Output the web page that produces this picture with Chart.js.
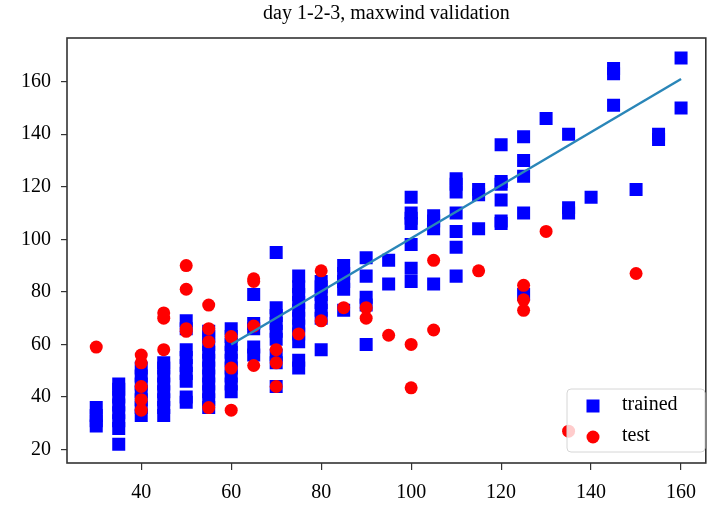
<!DOCTYPE html>
<html>
<head>
<meta charset="utf-8">
<script src="https://cdn.jsdelivr.net/npm/chart.js@4"></script>
<style>
  body { margin: 0; background: #fff; }
  canvas { display: block; }
</style>
</head>
<body>
<canvas id="grafico" width="715" height="510"></canvas>
<script>
// valores de vento (eixo x) e valores observados em cada um
const windX = [30, 35, 40, 45, 50, 55, 60, 65, 70, 75, 80, 85, 90, 95, 100, 105, 110, 115, 120, 125, 130, 135, 140, 145, 150, 155, 160];

const trainedY = [
  [29, 31, 33, 36],
  [22, 28, 31, 34, 37, 40, 43, 45],
  [33, 36, 39, 42, 45, 48, 51],
  [33, 36, 39, 42, 45, 48, 51, 53],
  [38, 40, 46, 49, 52, 55, 58, 66, 69],
  [36, 39, 42, 45, 48, 51, 54, 57, 60, 63, 65],
  [42, 45, 48, 51, 54, 57, 60, 63, 66],
  [56, 59, 66, 68, 79],
  [44, 53, 56, 62, 65, 68, 71, 74, 95],
  [51, 54, 61, 64, 67, 70, 73, 76, 79, 82, 86],
  [58, 70, 73, 76, 79, 82, 84],
  [73, 81, 84, 87, 90],
  [60, 75, 78, 86, 93],
  [83, 92],
  [84, 89, 98, 106, 108, 110, 116],
  [83, 104, 107, 109],
  [86, 97, 103, 110, 118, 121, 123],
  [104, 117, 119],
  [106, 107, 115, 121, 122, 136],
  [79, 110, 124, 130, 139],
  [146],
  [110, 112, 140],
  [116],
  [151, 163, 165],
  [119],
  [138, 140],
  [150, 169]
];

const testY = [
  [59],
  [],
  [35, 39, 44, 53, 56],
  [58, 70, 72],
  [65, 66, 81, 90],
  [36, 61, 66, 75],
  [35, 51, 63],
  [52, 67, 84, 85],
  [44, 53, 58],
  [64],
  [69, 88],
  [74],
  [70, 74],
  [63.5],
  [43.5, 60],
  [65.5, 92],
  [],
  [88],
  [],
  [73, 77, 82.5],
  [103],
  [27],
  [],
  [],
  [87],
  [],
  []
];

// reta de ajuste
const fitX = [60, 160];
const fitY = [60, 161];

const legendLabels = ['trained', 'test'];
const titulo = 'day 1-2-3, maxwind validation';

function montarPontos(listas) {
  const pontos = [];
  windX.forEach((x, i) => listas[i].forEach(y => pontos.push({ x: x, y: y })));
  return pontos;
}

const fonte = '"Liberation Serif", "Times New Roman", serif';

// titulo centralizado sobre a area do grafico
const tituloPlugin = {
  id: 'tituloPlugin',
  afterDraw(chart) {
    const ctx = chart.ctx;
    const area = chart.chartArea;
    ctx.save();
    ctx.font = '20px ' + fonte;
    ctx.fillStyle = '#000';
    ctx.textAlign = 'center';
    ctx.textBaseline = 'middle';
    ctx.fillText(titulo, (area.left + area.right) / 2, 14);
    ctx.restore();
  }
};

// moldura e legenda
const molduraPlugin = {
  id: 'molduraPlugin',
  afterDatasetsDraw(chart) {
    const ctx = chart.ctx;
    const a = chart.chartArea;
    ctx.save();
    ctx.strokeStyle = '#333';
    ctx.lineWidth = 1.6;
    ctx.strokeRect(a.left, a.top, a.right - a.left, a.bottom - a.top);

    // caixa da legenda
    const bx = 567, by = 389, bw = 138, bh = 63;
    ctx.beginPath();
    ctx.roundRect(bx, by, bw, bh, 4);
    ctx.fillStyle = 'rgba(255,255,255,0.8)';
    ctx.fill();
    ctx.strokeStyle = '#d6d6d6';
    ctx.lineWidth = 1;
    ctx.stroke();

    ctx.fillStyle = '#0000ff';
    ctx.fillRect(593 - 6.5, 406 - 6.5, 13, 13);
    ctx.fillStyle = '#ff0000';
    ctx.beginPath();
    ctx.arc(593, 437, 6.5, 0, Math.PI * 2);
    ctx.fill();

    ctx.fillStyle = '#000';
    ctx.font = '20px ' + fonte;
    ctx.textAlign = 'left';
    ctx.textBaseline = 'middle';
    ctx.fillText(legendLabels[0], 622, 405);
    ctx.fillText(legendLabels[1], 622, 436);
    ctx.restore();
  }
};

const ctx = document.getElementById('grafico').getContext('2d');
const grafico = new Chart(ctx, {
  type: 'scatter',
  data: {
    datasets: [
      {
        label: 'fit',
        data: fitX.map((x, i) => ({ x: x, y: fitY[i] })),
        showLine: true,
        borderColor: '#2a86b8',
        borderWidth: 2.5,
        pointRadius: 0,
        order: 0
      },
      {
        label: legendLabels[1],
        data: montarPontos(testY),
        pointStyle: 'circle',
        pointRadius: 6.5,
        backgroundColor: '#ff0000',
        borderWidth: 0,
        order: 1
      },
      {
        label: legendLabels[0],
        data: montarPontos(trainedY),
        pointStyle: 'rect',
        pointRadius: 9.2,
        backgroundColor: '#0000ff',
        borderWidth: 0,
        order: 2
      }
    ]
  },
  options: {
    responsive: false,
    animation: false,
    devicePixelRatio: 1,
    events: [],
    layout: { padding: { top: 38, right: 4, left: 0, bottom: 0 } },
    plugins: {
      legend: { display: false },
      title: { display: false },
      tooltip: { enabled: false }
    },
    scales: {
      x: {
        type: 'linear',
        min: 23.5,
        max: 165.5,
        afterFit(scale) { scale.height = 47; },
        border: { display: false },
        grid: { drawOnChartArea: false, tickLength: 7, color: '#333', lineWidth: 1.2 },
        ticks: {
          stepSize: 20,
          includeBounds: false,
          maxRotation: 0,
          padding: 11,
          color: '#000',
          font: { family: fonte, size: 20 }
        }
      },
      y: {
        type: 'linear',
        min: 14.9,
        max: 176.6,
        afterFit(scale) { scale.width = 67; },
        border: { display: false },
        grid: { drawOnChartArea: false, tickLength: 6, color: '#333', lineWidth: 1.2 },
        ticks: {
          stepSize: 20,
          includeBounds: false,
          padding: 10,
          color: '#000',
          font: { family: fonte, size: 20 }
        }
      }
    }
  },
  plugins: [tituloPlugin, molduraPlugin]
});
</script>
</body>
</html>
